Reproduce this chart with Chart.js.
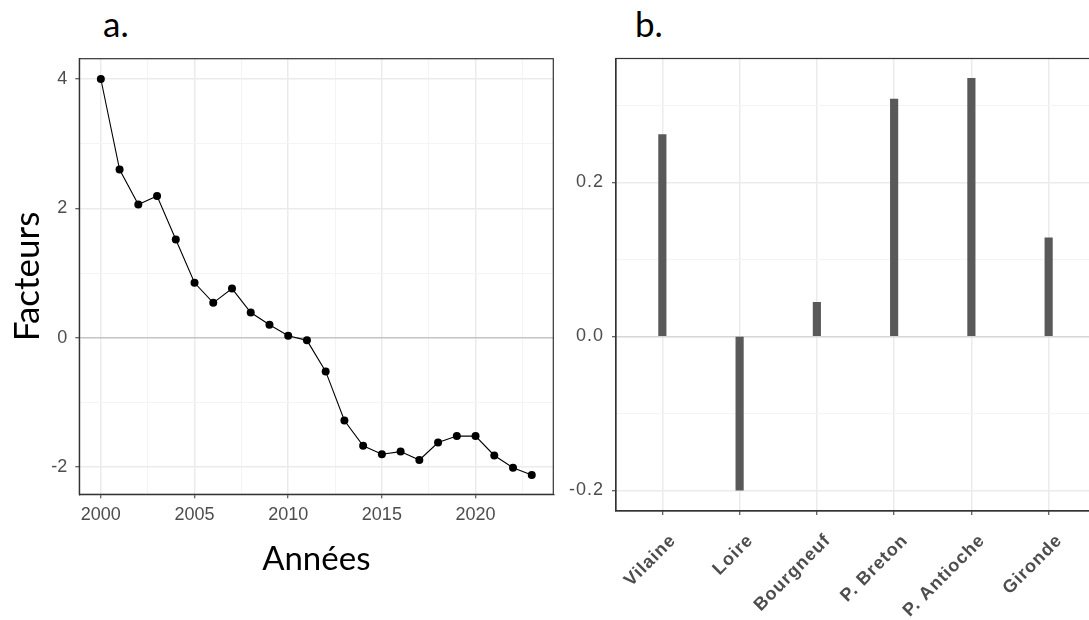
<!DOCTYPE html>
<html>
<head>
<meta charset="utf-8">
<script src="https://cdn.jsdelivr.net/npm/chart.js@4"></script>
<style>
  html, body { margin: 0; padding: 0; background: #fff; }
  body { width: 1089px; height: 620px; position: relative; overflow: hidden; }
  .panel { position: absolute; top: 0; }
  .tag { position: absolute; top: 2px; font: 35px Lato, "Open Sans", sans-serif; color: #000; }
</style>
</head>
<body>
<div class="tag" style="left:103px">a.</div>
<div class="tag" style="left:635px">b.</div>
<canvas id="factorChart" class="panel" style="left:0" width="560" height="620"></canvas>
<canvas id="loadingChart" class="panel" style="left:560px" width="535" height="620"></canvas>
<script>
// ---- data ----
const years = [2000, 2001, 2002, 2003, 2004, 2005, 2006, 2007, 2008, 2009, 2010, 2011,
               2012, 2013, 2014, 2015, 2016, 2017, 2018, 2019, 2020, 2021, 2022, 2023];
const factors = [4.00, 2.60, 2.06, 2.19, 1.52, 0.85, 0.54, 0.76, 0.39, 0.20, 0.03, -0.04,
                 -0.52, -1.28, -1.67, -1.80, -1.76, -1.89, -1.62, -1.52, -1.52, -1.82, -2.01, -2.12];
const yearTicks = [2000, 2002.5, 2005, 2007.5, 2010, 2012.5, 2015, 2017.5, 2020, 2022.5];
const factorTicks = [-2, -1, 0, 1, 2, 3, 4];

const sites = ['Vilaine', 'Loire', 'Bourgneuf', 'P. Breton', 'P. Antioche', 'Gironde'];
const loadings = [0.262, -0.200, 0.044, 0.308, 0.335, 0.128];
const loadingTicks = [-0.2, -0.1, 0, 0.1, 0.2, 0.3];

const GRID = '#ebebeb';
const GRID_MINOR = '#f4f4f4';
const AXIS = '#333333';
const TICK_TEXT = '#4d4d4d';
const tickFont = { family: '"Liberation Sans", Arial, sans-serif', size: 18 };
const titleFont = { family: 'Lato, "Open Sans", sans-serif', size: 33 };

// ggplot-style box around the panel
const panelBorder = {
  id: 'panelBorder',
  afterDraw(chart) {
    const { ctx, chartArea: a } = chart;
    ctx.save();
    ctx.strokeStyle = AXIS;
    ctx.lineWidth = 1.2;
    ctx.strokeRect(a.left, a.top, a.right - a.left, a.bottom - a.top);
    ctx.restore();
  }
};

// the site labels in panel b are set a little loose
const looseText = {
  id: 'looseText',
  beforeDraw(chart) { chart.ctx.letterSpacing = '1px'; }
};

const isMajorYear = v => v % 5 === 0;
const isMajorFactor = v => v % 2 === 0;
const isMajorLoading = v => Math.round(v * 10) % 2 === 0;

new Chart(document.getElementById('factorChart'), {
  type: 'scatter',
  data: {
    datasets: [{
      data: years.map((y, i) => ({ x: y, y: factors[i] })),
      showLine: true,
      borderColor: '#000',
      borderWidth: 1.1,
      pointRadius: 4,
      pointBackgroundColor: '#000',
      pointBorderWidth: 0
    }]
  },
  options: {
    responsive: false,
    animation: false,
    layout: { padding: { top: 58.7, right: 6.7, left: 0, bottom: 40.6 } },
    plugins: { legend: { display: false }, tooltip: { enabled: false } },
    scales: {
      x: {
        type: 'linear',
        min: 1998.85,
        max: 2024.15,
        afterBuildTicks: s => { s.ticks = yearTicks.map(v => ({ value: v })); },
        afterFit: s => { s.height = 85.1; },
        grid: {
          color: c => isMajorYear(c.tick.value) ? GRID : GRID_MINOR,
          lineWidth: c => isMajorYear(c.tick.value) ? 1.5 : 1,
          tickColor: c => isMajorYear(c.tick.value) ? AXIS : 'rgba(0,0,0,0)',
          tickLength: 4,
          tickWidth: 1
        },
        border: { color: AXIS, width: 1.2 },
        ticks: {
          font: tickFont,
          color: TICK_TEXT,
          padding: 6,
          maxRotation: 0,
          callback: v => isMajorYear(v) ? String(v) : ''
        },
        title: { display: true, text: 'Années', font: titleFont, color: '#000', padding: { top: 0, bottom: 0 } }
      },
      y: {
        min: -2.42,
        max: 4.314,
        afterBuildTicks: s => { s.ticks = factorTicks.map(v => ({ value: v })); },
        afterFit: s => { s.width = 79.3; },
        grid: {
          color: c => c.tick.value === 0 ? '#c4c4c4' : (isMajorFactor(c.tick.value) ? GRID : GRID_MINOR),
          lineWidth: c => isMajorFactor(c.tick.value) ? 1.5 : 1,
          tickColor: c => isMajorFactor(c.tick.value) ? AXIS : 'rgba(0,0,0,0)',
          tickLength: 4,
          tickWidth: 1
        },
        border: { color: AXIS, width: 1.2 },
        ticks: {
          font: tickFont,
          color: TICK_TEXT,
          padding: 8,
          callback: v => isMajorFactor(v) ? String(v) : ''
        },
        title: { display: true, text: 'Facteurs', font: { ...titleFont, size: 35 }, color: '#000', padding: { top: 7, bottom: 0 } }
      }
    }
  },
  plugins: [panelBorder]
});

new Chart(document.getElementById('loadingChart'), {
  type: 'bar',
  data: {
    datasets: [{
      data: sites.map((s, i) => ({ x: i + 1, y: loadings[i] })),
      backgroundColor: '#595959',
      barThickness: 7.5
    }]
  },
  options: {
    responsive: false,
    animation: false,
    layout: { padding: { top: 58.5, right: 0, left: 0, bottom: 0 } },
    plugins: { legend: { display: false }, tooltip: { enabled: false } },
    scales: {
      x: {
        type: 'linear',
        min: 0.4,
        max: 6.6,
        offset: false,
        afterBuildTicks: s => { s.ticks = sites.map((n, i) => ({ value: i + 1 })); },
        afterFit: s => { s.height = 109; },
        grid: { offset: false, color: GRID, lineWidth: 1.5, tickColor: AXIS, tickLength: 4, tickWidth: 1 },
        border: { color: AXIS, width: 1.2 },
        ticks: {
          font: { ...tickFont, weight: 'bold' },
          color: TICK_TEXT,
          padding: 15,
          autoSkip: false,
          minRotation: 45,
          maxRotation: 45,
          labelOffset: 11,
          callback: v => sites[v - 1]
        }
      },
      y: {
        min: -0.2269,
        max: 0.3608,
        afterBuildTicks: s => { s.ticks = loadingTicks.map(v => ({ value: v })); },
        afterFit: s => { s.width = 56; },
        grid: {
          color: c => c.tick.value === 0 ? '#d6d6d6' : (isMajorLoading(c.tick.value) ? GRID : GRID_MINOR),
          lineWidth: c => isMajorLoading(c.tick.value) ? 1.5 : 1,
          tickColor: c => isMajorLoading(c.tick.value) ? AXIS : 'rgba(0,0,0,0)',
          tickLength: 4,
          tickWidth: 1
        },
        border: { color: AXIS, width: 1.2 },
        ticks: {
          font: tickFont,
          color: TICK_TEXT,
          padding: 8,
          callback: v => isMajorLoading(v) ? v.toFixed(1) : ''
        }
      }
    }
  },
  plugins: [panelBorder, looseText]
});
</script>
</body>
</html>
